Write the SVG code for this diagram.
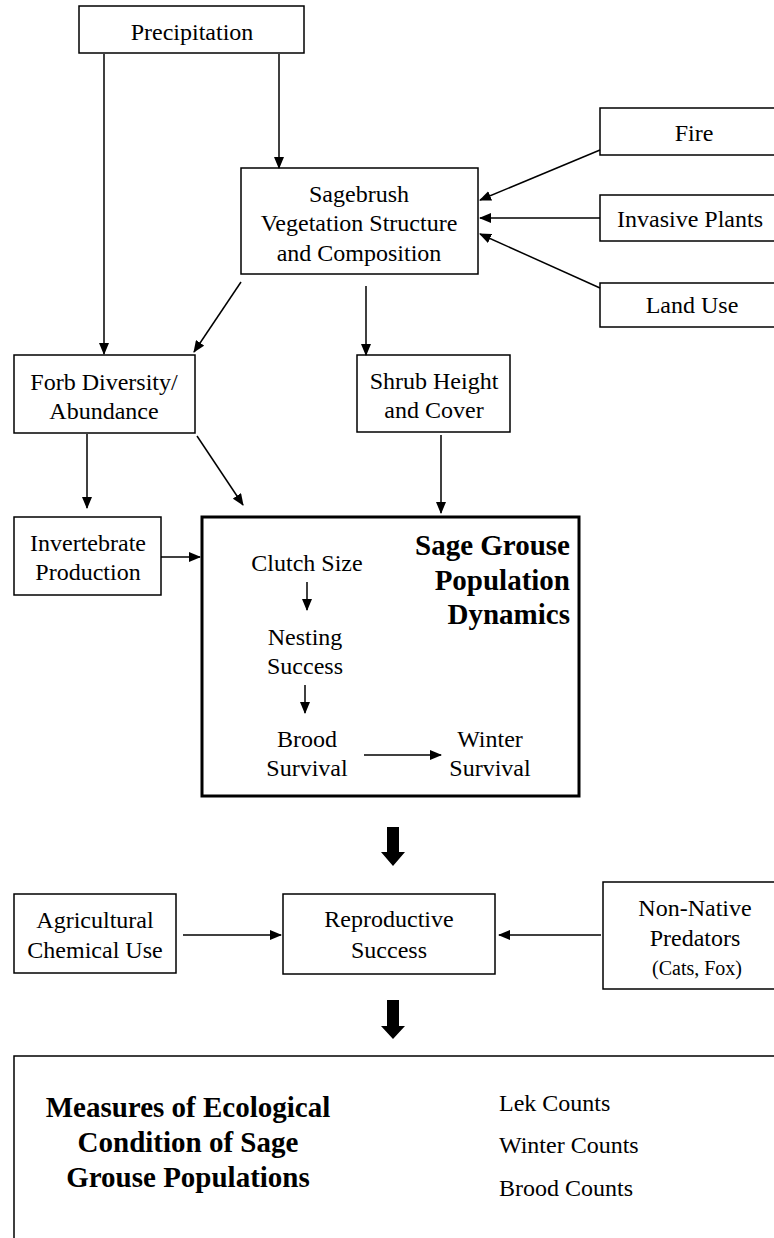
<svg xmlns="http://www.w3.org/2000/svg" width="774" height="1238" viewBox="0 0 774 1238">
  <style>
    .box { fill: #fff; stroke: #000; stroke-width: 1.5; }
    .main { fill: #fff; stroke: #000; stroke-width: 3; }
    .t { font-family: "Liberation Serif", "Times New Roman", serif; font-size: 24px; fill: #000; text-anchor: middle; }
    .s { font-size: 20px; }
    .b { font-family: "Liberation Serif", "Times New Roman", serif; font-size: 29px; font-weight: bold; fill: #000; }
    .l { text-anchor: start; }
    .c { fill: none; stroke: #000; stroke-width: 1.5; marker-end: url(#ah); }
    .big { fill: #000; }
  </style>
  <defs>
    <marker id="ah" markerUnits="userSpaceOnUse" markerWidth="12" markerHeight="10" refX="11" refY="5" orient="auto">
      <path d="M0,0 L12,5 L0,10 z" fill="#000"/>
    </marker>
  </defs>
  <rect width="774" height="1238" fill="#fff"/>

  <g id="precipitation">
    <rect class="box" x="79" y="6" width="225" height="47"/>
    <text class="t" x="192" y="40">Precipitation</text>
  </g>

  <g id="sagebrush">
    <rect class="box" x="241" y="168" width="237" height="106"/>
    <text class="t" x="359" y="202">Sagebrush</text>
    <text class="t" x="359" y="231">Vegetation Structure</text>
    <text class="t" x="359" y="261">and Composition</text>
  </g>

  <g id="fire">
    <rect class="box" x="600" y="108" width="180" height="47"/>
    <text class="t" x="694" y="141">Fire</text>
  </g>

  <g id="invasive-plants">
    <rect class="box" x="600" y="195" width="180" height="46"/>
    <text class="t" x="690" y="227">Invasive Plants</text>
  </g>

  <g id="land-use">
    <rect class="box" x="600" y="283" width="180" height="44"/>
    <text class="t" x="692" y="313">Land Use</text>
  </g>

  <g id="forb">
    <rect class="box" x="14" y="355" width="181" height="78"/>
    <text class="t" x="104" y="390">Forb Diversity/</text>
    <text class="t" x="104" y="419">Abundance</text>
  </g>

  <g id="shrub">
    <rect class="box" x="357" y="355" width="153" height="77"/>
    <text class="t" x="434" y="389">Shrub Height</text>
    <text class="t" x="434" y="418">and Cover</text>
  </g>

  <g id="invertebrate">
    <rect class="box" x="14" y="517" width="147" height="78"/>
    <text class="t" x="88" y="551">Invertebrate</text>
    <text class="t" x="88" y="580">Production</text>
  </g>

  <g id="population-dynamics">
    <rect class="main" x="202" y="517" width="377" height="279"/>
    <text class="b" x="570" y="555" text-anchor="end">Sage Grouse</text>
    <text class="b" x="570" y="590" text-anchor="end">Population</text>
    <text class="b" x="570" y="624" text-anchor="end">Dynamics</text>
    <text class="t" x="307" y="571">Clutch Size</text>
    <text class="t" x="305" y="645">Nesting</text>
    <text class="t" x="305" y="674">Success</text>
    <text class="t" x="307" y="747">Brood</text>
    <text class="t" x="307" y="776">Survival</text>
    <text class="t" x="490" y="747">Winter</text>
    <text class="t" x="490" y="776">Survival</text>
  </g>

  <g id="agricultural">
    <rect class="box" x="14" y="894" width="162" height="79"/>
    <text class="t" x="95" y="928">Agricultural</text>
    <text class="t" x="95" y="958">Chemical Use</text>
  </g>

  <g id="reproductive">
    <rect class="box" x="283" y="894" width="212" height="80"/>
    <text class="t" x="389" y="927">Reproductive</text>
    <text class="t" x="389" y="958">Success</text>
  </g>

  <g id="predators">
    <rect class="box" x="603" y="882" width="177" height="107"/>
    <text class="t" x="695" y="916">Non-Native</text>
    <text class="t" x="695" y="946">Predators</text>
    <text class="t s" x="697" y="975">(Cats, Fox)</text>
  </g>

  <g id="measures">
    <rect class="box" x="14" y="1056" width="770" height="200"/>
    <text class="b" x="188" y="1117" text-anchor="middle">Measures of Ecological</text>
    <text class="b" x="188" y="1152" text-anchor="middle">Condition of Sage</text>
    <text class="b" x="188" y="1187" text-anchor="middle">Grouse Populations</text>
    <text class="t l" x="499" y="1111">Lek Counts</text>
    <text class="t l" x="499" y="1153">Winter Counts</text>
    <text class="t l" x="499" y="1196">Brood Counts</text>
  </g>

  <!-- connectors drawn last so they sit on top of the box fills -->
  <g id="connectors">
    <path class="c" d="M104,54 V354"/>
    <path class="c" d="M279,54 V168"/>
    <path class="c" d="M600,150 L480,200"/>
    <path class="c" d="M600,218 L480,218"/>
    <path class="c" d="M600,288 L480,234"/>
    <path class="c" d="M241,282 L194,352"/>
    <path class="c" d="M366,286 V355"/>
    <path class="c" d="M87,434 V508"/>
    <path class="c" d="M197,436 L243,505"/>
    <path class="c" d="M441,435 V513"/>
    <path class="c" d="M161,557 H200"/>
    <path class="c" d="M307,582 V610"/>
    <path class="c" d="M305,685 V713"/>
    <path class="c" d="M364,755 H441"/>
    <path class="c" d="M183,935 H281"/>
    <path class="c" d="M601,935 H499"/>
    <polygon class="big" points="387,827 399,827 399,852 405,852 393,866 381,852 387,852"/>
    <polygon class="big" points="387,1000 399,1000 399,1026 405,1026 393,1039 381,1026 387,1026"/>
  </g>
</svg>
